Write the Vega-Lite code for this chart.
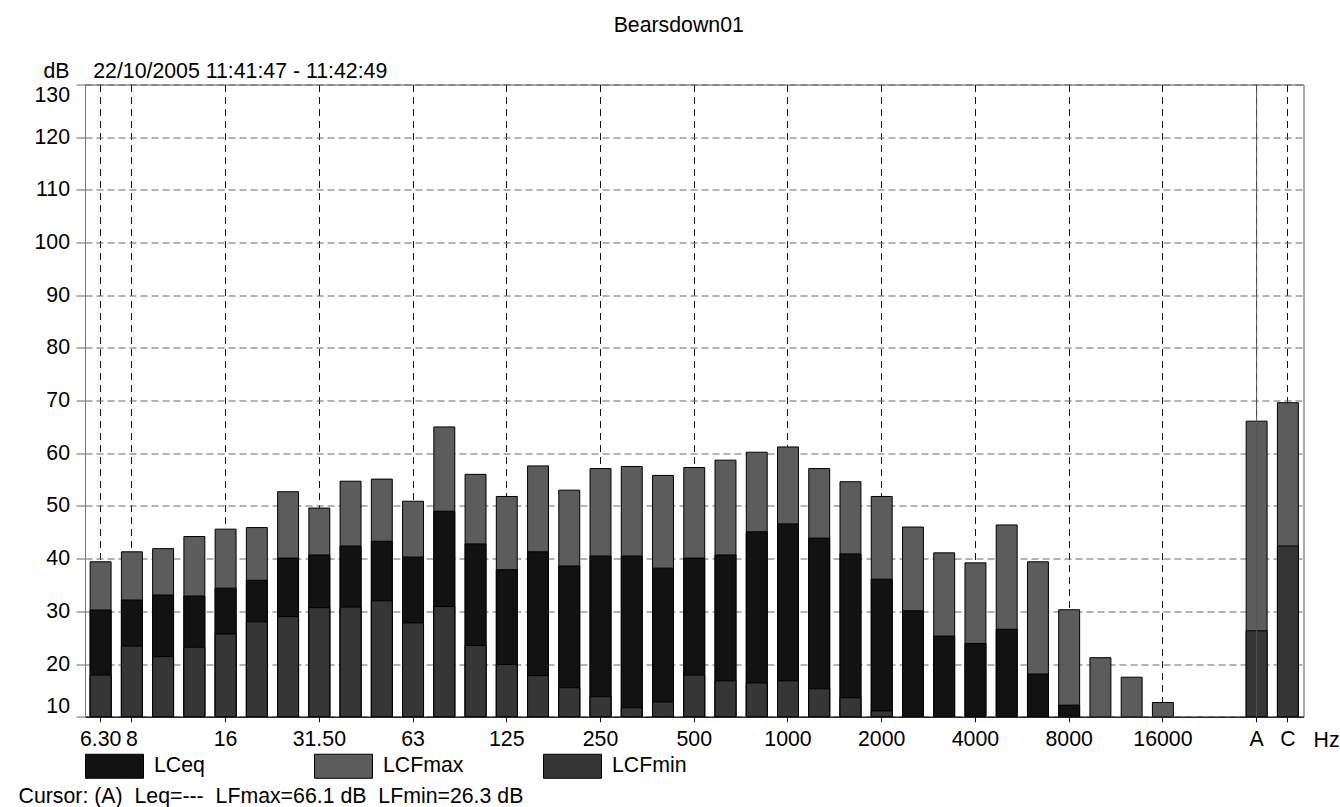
{
  "$schema": "https://vega.github.io/schema/vega-lite/v6.json",
  "autosize": {"type": "none"},
  "padding": {"left": 85, "top": 84.5, "right": 36.5, "bottom": 90.3},
  "width": 1218.5,
  "height": 632.2,
  "background": "#ffffff",
  "title": {
    "text": "Bearsdown01",
    "anchor": "middle",
    "dx": -15.5,
    "dy": -20,
    "fontSize": 21.3,
    "fontWeight": "normal",
    "color": "#000000",
    "font": "Liberation Sans"
  },
  "datasets": {
    "bars": [
      {"band": "6.3", "series": "LCFmax", "level": 39.4},
      {"band": "6.3", "series": "LCeq", "level": 30.25},
      {"band": "6.3", "series": "LCFmin", "level": 17.9},
      {"band": "8", "series": "LCFmax", "level": 41.3},
      {"band": "8", "series": "LCeq", "level": 32.15},
      {"band": "8", "series": "LCFmin", "level": 23.4},
      {"band": "10", "series": "LCFmax", "level": 41.9},
      {"band": "10", "series": "LCeq", "level": 33.1},
      {"band": "10", "series": "LCFmin", "level": 21.4},
      {"band": "12.5", "series": "LCFmax", "level": 44.2},
      {"band": "12.5", "series": "LCeq", "level": 32.9},
      {"band": "12.5", "series": "LCFmin", "level": 23.2},
      {"band": "16", "series": "LCFmax", "level": 45.6},
      {"band": "16", "series": "LCeq", "level": 34.4},
      {"band": "16", "series": "LCFmin", "level": 25.7},
      {"band": "20", "series": "LCFmax", "level": 45.9},
      {"band": "20", "series": "LCeq", "level": 35.9},
      {"band": "20", "series": "LCFmin", "level": 28.0},
      {"band": "25", "series": "LCFmax", "level": 52.7},
      {"band": "25", "series": "LCeq", "level": 40.1},
      {"band": "25", "series": "LCFmin", "level": 29.0},
      {"band": "31.5", "series": "LCFmax", "level": 49.6},
      {"band": "31.5", "series": "LCeq", "level": 40.7},
      {"band": "31.5", "series": "LCFmin", "level": 30.7},
      {"band": "40", "series": "LCFmax", "level": 54.7},
      {"band": "40", "series": "LCeq", "level": 42.4},
      {"band": "40", "series": "LCFmin", "level": 30.8},
      {"band": "50", "series": "LCFmax", "level": 55.1},
      {"band": "50", "series": "LCeq", "level": 43.3},
      {"band": "50", "series": "LCFmin", "level": 32.0},
      {"band": "63", "series": "LCFmax", "level": 50.9},
      {"band": "63", "series": "LCeq", "level": 40.3},
      {"band": "63", "series": "LCFmin", "level": 27.8},
      {"band": "80", "series": "LCFmax", "level": 65.0},
      {"band": "80", "series": "LCeq", "level": 49.0},
      {"band": "80", "series": "LCFmin", "level": 30.9},
      {"band": "100", "series": "LCFmax", "level": 56.0},
      {"band": "100", "series": "LCeq", "level": 42.8},
      {"band": "100", "series": "LCFmin", "level": 23.5},
      {"band": "125", "series": "LCFmax", "level": 51.8},
      {"band": "125", "series": "LCeq", "level": 37.9},
      {"band": "125", "series": "LCFmin", "level": 19.9},
      {"band": "160", "series": "LCFmax", "level": 57.6},
      {"band": "160", "series": "LCeq", "level": 41.3},
      {"band": "160", "series": "LCFmin", "level": 17.8},
      {"band": "200", "series": "LCFmax", "level": 53.0},
      {"band": "200", "series": "LCeq", "level": 38.6},
      {"band": "200", "series": "LCFmin", "level": 15.5},
      {"band": "250", "series": "LCFmax", "level": 57.1},
      {"band": "250", "series": "LCeq", "level": 40.5},
      {"band": "250", "series": "LCFmin", "level": 13.8},
      {"band": "315", "series": "LCFmax", "level": 57.5},
      {"band": "315", "series": "LCeq", "level": 40.5},
      {"band": "315", "series": "LCFmin", "level": 11.7},
      {"band": "400", "series": "LCFmax", "level": 55.8},
      {"band": "400", "series": "LCeq", "level": 38.2},
      {"band": "400", "series": "LCFmin", "level": 12.8},
      {"band": "500", "series": "LCFmax", "level": 57.3},
      {"band": "500", "series": "LCeq", "level": 40.1},
      {"band": "500", "series": "LCFmin", "level": 17.9},
      {"band": "630", "series": "LCFmax", "level": 58.7},
      {"band": "630", "series": "LCeq", "level": 40.7},
      {"band": "630", "series": "LCFmin", "level": 16.8},
      {"band": "800", "series": "LCFmax", "level": 60.2},
      {"band": "800", "series": "LCeq", "level": 45.1},
      {"band": "800", "series": "LCFmin", "level": 16.4},
      {"band": "1000", "series": "LCFmax", "level": 61.2},
      {"band": "1000", "series": "LCeq", "level": 46.6},
      {"band": "1000", "series": "LCFmin", "level": 16.8},
      {"band": "1250", "series": "LCFmax", "level": 57.1},
      {"band": "1250", "series": "LCeq", "level": 43.9},
      {"band": "1250", "series": "LCFmin", "level": 15.3},
      {"band": "1600", "series": "LCFmax", "level": 54.6},
      {"band": "1600", "series": "LCeq", "level": 40.9},
      {"band": "1600", "series": "LCFmin", "level": 13.6},
      {"band": "2000", "series": "LCFmax", "level": 51.8},
      {"band": "2000", "series": "LCeq", "level": 36.1},
      {"band": "2000", "series": "LCFmin", "level": 11.1},
      {"band": "2500", "series": "LCFmax", "level": 46.0},
      {"band": "2500", "series": "LCeq", "level": 30.1},
      {"band": "3150", "series": "LCFmax", "level": 41.1},
      {"band": "3150", "series": "LCeq", "level": 25.3},
      {"band": "4000", "series": "LCFmax", "level": 39.2},
      {"band": "4000", "series": "LCeq", "level": 23.9},
      {"band": "5000", "series": "LCFmax", "level": 46.4},
      {"band": "5000", "series": "LCeq", "level": 26.6},
      {"band": "6300", "series": "LCFmax", "level": 39.4},
      {"band": "6300", "series": "LCeq", "level": 18.1},
      {"band": "8000", "series": "LCFmax", "level": 30.3},
      {"band": "8000", "series": "LCeq", "level": 12.2},
      {"band": "10000", "series": "LCFmax", "level": 21.2},
      {"band": "12500", "series": "LCFmax", "level": 17.5},
      {"band": "16000", "series": "LCFmax", "level": 12.7},
      {"band": "A", "series": "LCFmax", "level": 66.1},
      {"band": "A", "series": "LCFmin", "level": 26.3},
      {"band": "C", "series": "LCFmax", "level": 69.6},
      {"band": "C", "series": "LCFmin", "level": 42.4}
    ],
    "cursor": [
      {"band": "A", "lo": 10, "hi": 130}
    ]
  },
  "encoding": {
    "x": {
      "field": "band",
      "type": "nominal",
      "scale": {
        "domain": ["6.3", "8", "10", "12.5", "16", "20", "25", "31.5", "40", "50", "63", "80", "100", "125", "160", "200", "250", "315", "400", "500", "630", "800", "1000", "1250", "1600", "2000", "2500", "3150", "4000", "5000", "6300", "8000", "10000", "12500", "16000", "20000", " ", "A", "C"],
        "paddingInner": 0.33,
        "paddingOuter": 0.165
      },
      "axis": {
        "values": ["6.3", "8", "16", "31.5", "63", "125", "250", "500", "1000", "2000", "4000", "8000", "16000", "A", "C"],
        "labelExpr": "datum.value == '6.3' ? '6.30' : datum.value == '31.5' ? '31.50' : datum.value",
        "labelAngle": 0,
        "labelOverlap": false,
        "labelFont": "Liberation Sans",
        "labelFontSize": 21.3,
        "labelColor": "#000000",
        "labelBaseline": "alphabetic",
        "labelPadding": 24,
        "tickSize": 5,
        "tickColor": "#000000",
        "domainColor": "#000000",
        "grid": true,
        "gridColor": "#111111",
        "gridDash": [7, 5],
        "gridWidth": 1,
        "title": "Cursor: (A)\u00a0\u00a0Leq=---\u00a0\u00a0LFmax=66.1 dB\u00a0\u00a0LFmin=26.3 dB",
        "titleX": -67,
        "titleY": 85.6,
        "titleAlign": "left",
        "titleAnchor": "start",
        "titleBaseline": "alphabetic",
        "titleFont": "Liberation Sans",
        "titleFontSize": 21.3,
        "titleFontWeight": "normal",
        "titleColor": "#000000"
      }
    }
  },
  "layer": [
    {
      "data": {"name": "bars"},
      "mark": {"type": "bar", "stroke": "#000000", "strokeWidth": 1, "clip": true},
      "encoding": {
        "y": {
          "field": "level",
          "type": "quantitative",
          "stack": null,
          "scale": {"domain": [10, 130], "nice": false, "zero": false},
          "axis": {
            "values": [10, 20, 30, 40, 50, 60, 70, 80, 90, 100, 110, 120, 130],
            "labelFlush": true,
            "labelFont": "Liberation Sans",
            "labelFontSize": 21.3,
            "labelColor": "#000000",
            "labelPadding": 6.5,
            "tickSize": 9,
            "tickColor": "#666666",
            "domainColor": "#777777",
            "grid": true,
            "gridColor": "#666666",
            "gridDash": [7, 4],
            "title": "dB\u00a0\u00a0\u00a0\u00a022/10/2005 11:41:47 - 11:42:49",
            "titleAngle": 0,
            "titleX": -42,
            "titleY": -7.2,
            "titleAlign": "left",
            "titleBaseline": "alphabetic",
            "titleFont": "Liberation Sans",
            "titleFontSize": 21.3,
            "titleFontWeight": "normal",
            "titleColor": "#000000"
          }
        },
        "color": {
          "field": "series",
          "type": "nominal",
          "scale": {"domain": ["LCeq", "LCFmax", "LCFmin"], "range": ["#121212", "#5c5c5c", "#363636"]},
          "legend": {
            "orient": "none",
            "legendX": 0,
            "legendY": 652,
            "direction": "horizontal",
            "columns": 3,
            "gridAlign": "all",
            "columnPadding": 77,
            "title": null,
            "padding": 0,
            "symbolType": "M-1,-0.414H1V0.414H-1Z",
            "symbolSize": 3364,
            "symbolStrokeColor": "#000000",
            "symbolStrokeWidth": 1,
            "labelFont": "Liberation Sans",
            "labelFontSize": 21.3,
            "labelOffset": 10,
            "labelColor": "#000000"
          }
        }
      }
    },
    {
      "data": {"name": "cursor"},
      "mark": {"type": "rule", "color": "#555555", "strokeWidth": 1},
      "encoding": {
        "y": {
          "field": "lo",
          "type": "quantitative",
          "scale": {"domain": [10, 130], "nice": false, "zero": false},
          "axis": {
            "orient": "right",
            "labels": false,
            "ticks": false,
            "domain": false,
            "grid": false,
            "title": "Hz",
            "titleAngle": 0,
            "titleX": 9.5,
            "titleY": 661.5,
            "titleAlign": "left",
            "titleBaseline": "alphabetic",
            "titleFont": "Liberation Sans",
            "titleFontSize": 21.3,
            "titleFontWeight": "normal",
            "titleColor": "#000000"
          }
        },
        "y2": {"field": "hi"}
      }
    }
  ],
  "resolve": {"axis": {"y": "independent"}},
  "config": {
    "font": "Liberation Sans",
    "view": {"stroke": "#555555", "strokeWidth": 1}
  }
}
